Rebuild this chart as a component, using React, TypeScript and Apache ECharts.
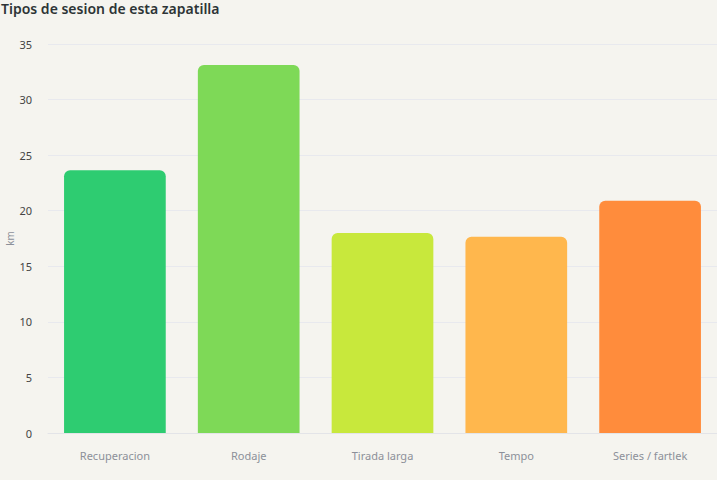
import React, { useEffect, useRef } from "react";
import * as echarts from "echarts";

const categories = ["Recuperacion", "Rodaje", "Tirada larga", "Tempo", "Series / fartlek"];
const kmValues = [23.65, 33.1, 18.0, 17.65, 20.9];
const barColors = ["#2ecc71", "#7ed957", "#c8e83c", "#ffb74d", "#ff8c3c"];
const yTicks = { min: 0, max: 35, interval: 5 };
const titleText = "Tipos de sesion de esta zapatilla";
const yAxisName = "km";

const FONT = "'Source Sans Pro', 'Noto Sans', 'Open Sans', sans-serif";

export default function App() {
  const ref = useRef<HTMLDivElement>(null);
  useEffect(() => {
    if (!ref.current) return;
    const chart = echarts.init(ref.current, null, { renderer: "svg" });
    chart.setOption({
      animation: false,
      backgroundColor: "#f5f4ef",
      textStyle: { fontFamily: FONT },
      title: {
        text: titleText,
        left: 0,
        top: 0,
        padding: [1, 0, 0, 1],
        textStyle: { fontSize: 14, fontWeight: 600, color: "#2d3436", fontFamily: FONT },
      },
      grid: { left: 48, right: 0, top: 44, bottom: 47, containLabel: false, outerBoundsMode: "none" },
      xAxis: {
        type: "category",
        data: categories,
        axisTick: { show: false },
        axisLine: { lineStyle: { color: "#e3e4e8" } },
        axisLabel: { color: "#8c9099", fontSize: 11, margin: 17, fontFamily: FONT },
      },
      yAxis: {
        type: "value",
        min: yTicks.min,
        max: yTicks.max,
        interval: yTicks.interval,
        name: yAxisName,
        nameLocation: "middle",
        nameGap: 33,
        nameMoveOverlap: false,
        nameRotate: 90,
        nameTextStyle: { color: "#8c9099", fontSize: 10, fontFamily: FONT },
        axisLine: { show: false },
        axisTick: { show: false },
        axisLabel: { color: "#444", fontSize: 11, margin: 16, fontFamily: FONT },
        splitLine: { lineStyle: { color: "#e8e9ee", width: 1 } },
      },
      series: [
        {
          type: "bar",
          barWidth: "76%",
          data: kmValues.map((v, i) => ({
            value: v,
            itemStyle: { color: barColors[i], borderRadius: [6, 6, 0, 0] },
          })),
        },
      ],
    });
    return () => chart.dispose();
  }, []);
  return <div ref={ref} style={{ width: 717, height: 480, position: "absolute", left: 0, top: 0 }} />;
}
